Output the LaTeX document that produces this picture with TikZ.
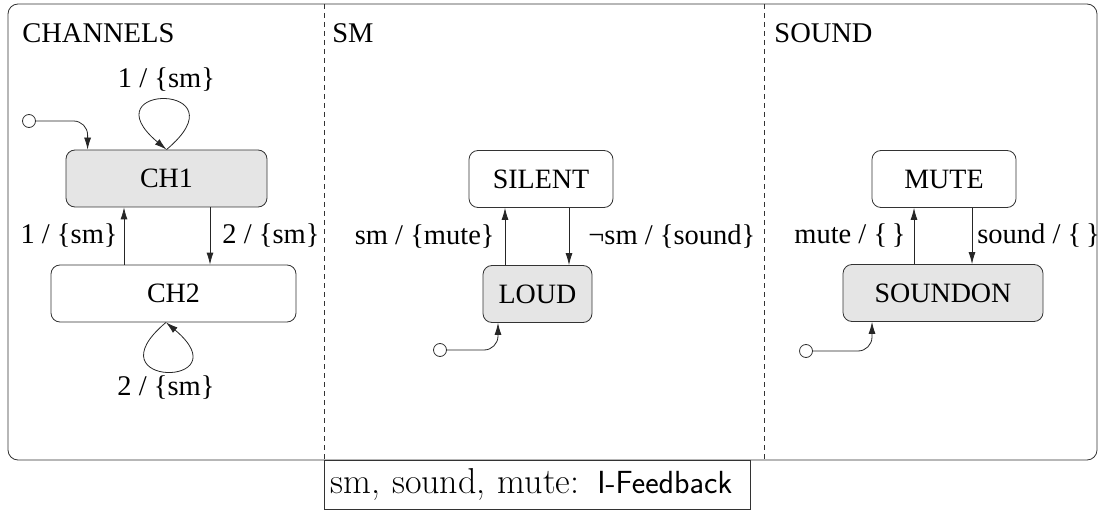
\documentclass[tikz,border=0pt]{standalone}
\usepackage{fontspec}
\newfontfamily\timesfont{Liberation Serif}
\usetikzlibrary{arrows.meta,positioning}

\tikzset{
	state/.style={draw=black!80,rounded corners=9pt,minimum height=57pt,inner sep=0pt,font=\timesfont\fontsize{28}{31}\selectfont},
	active/.style={state,fill=black!10},
	init/.style={circle,draw=black!80,fill=white,minimum size=13pt,inner sep=0pt},
	trans/.style={-{Latex[length=12pt,width=7pt]},draw=black!85,line width=0.8pt},
	lbl/.style={font=\timesfont\fontsize{28.5}{31}\selectfont,inner sep=2pt},
}

\begin{document}
\begin{tikzpicture}[x=1pt,y=1pt,line width=0.8pt]
	\useasboundingbox (0,0) rectangle (1100,-513);
	
	% frame and regions
	\draw[rounded corners=10pt,black!80] (8,-4) rectangle (1097,-460);
	\draw[black!80,dash pattern=on 5pt off 4pt] (324,-4) -- (324,-460);
	\draw[black!80,dash pattern=on 5pt off 4pt] (764,-4) -- (764,-460);
	\node[lbl,anchor=west] (chtitle) at (20,-33) {CHANNELS};
	\node[lbl,anchor=west] (smtitle) at (330,-33) {SM};
	\node[lbl,anchor=west] (sndtitle) at (772,-33) {SOUND};
	
	% states
	\node[active,minimum width=201pt] (ch1) at (166.5,-178.5) {CH1};
	\node[state,minimum width=245pt] (ch2) at (173.5,-293.5) {CH2};
	\node[state,minimum width=144pt] (silent) at (541,-179) {SILENT};
	\node[active,minimum width=109pt] (loud) at (537.5,-294) {LOUD};
	\node[state,minimum width=144pt] (mute) at (944,-179) {MUTE};
	\node[active,minimum width=200pt] (soundon) at (943,-293) {SOUNDON};
	
	\node[init] (i1) at (29,-121) {};
	\node[init] (i2) at (440,-350) {};
	\node[init] (i3) at (806,-351) {};
	
	% CHANNELS
	\draw[trans,rounded corners=14pt] (i1.east) -| ([xshift=22pt]ch1.north west);
	\draw[trans] (ch1.north) to[out=40,in=140,distance=104pt] node[lbl,above=6pt] (l1) {1 / \{sm\}} (ch1.north);
	\draw[trans] ([xshift=43.5pt]ch1.south) -- ([xshift=43.5pt]ch1.south |- ch2.north) node[lbl,midway,right=10pt] (l2) {2 / \{sm\}};
	\draw[trans] ([xshift=-42.5pt]ch1.south |- ch2.north) -- ([xshift=-42.5pt]ch1.south) node[lbl,midway,left=4pt] (l3) {1 / \{sm\}};
	\draw[trans] ([xshift=-7.5pt]ch2.south) to[out=-140,in=-40,distance=102pt] node[lbl,below=2pt] (l4) {2 / \{sm\}} ([xshift=-7.5pt]ch2.south);
	
	% SM
	\draw[trans,rounded corners=14pt] (i2.east) -| ([xshift=-39.5pt]loud.south);
	\draw[trans] ([xshift=-32.5pt]loud.north) -- ([xshift=-32.5pt]loud.north |- silent.south) node[lbl,midway,left=8pt] (l5) {sm / \{mute\}};
	\draw[trans] ([xshift=31.5pt]loud.north |- silent.south) -- ([xshift=31.5pt]loud.north) node[lbl,midway,right=17pt] (l6) {¬sm / \{sound\}};
	
	% SOUND
	\draw[trans,rounded corners=14pt] (i3.east) -| ([xshift=-71pt]soundon.south);
	\draw[trans] ([xshift=-29pt]soundon.north) -- ([xshift=-29pt]soundon.north |- mute.south) node[lbl,midway,left=6pt] (l7) {mute / \{\,\}};
	\draw[trans] ([xshift=29pt]soundon.north |- mute.south) -- ([xshift=29pt]soundon.north) node[lbl,midway,right=3pt] (l8) {sound / \{\,\}};
	
	% feedback legend
	\node[draw=black!80,anchor=north west,text width=414pt,inner xsep=6pt,minimum height=49pt,align=left,font=\fontsize{36}{40}\selectfont] (fb) at (324,-460) {sm, sound, mute: {\sffamily\fontsize{32}{36}\selectfont I-Feedback}};
\end{tikzpicture}
\end{document}
